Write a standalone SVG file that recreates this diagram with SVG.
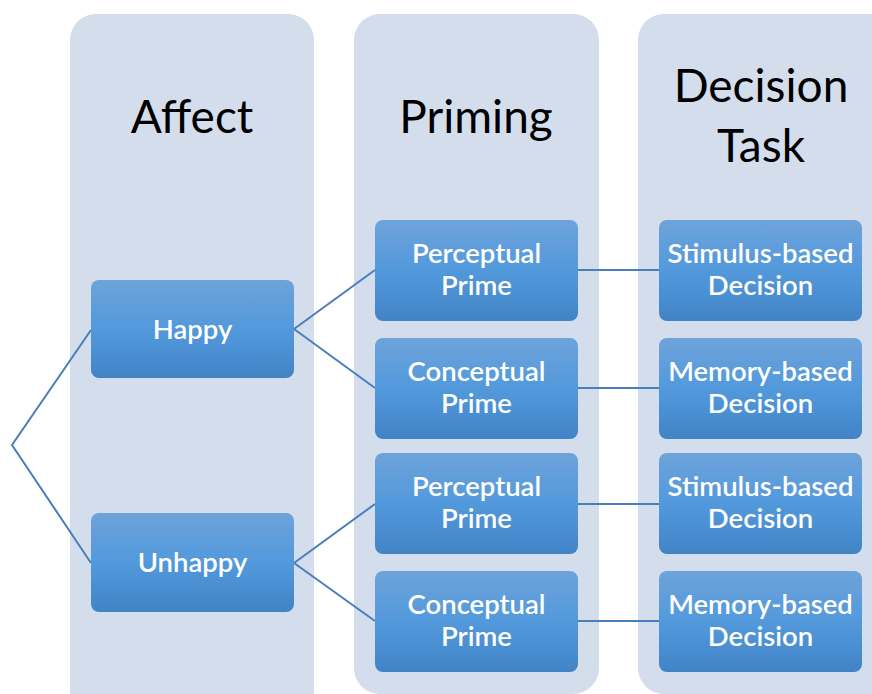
<svg xmlns="http://www.w3.org/2000/svg" width="872" height="694" viewBox="0 0 872 694">
<defs>
<linearGradient id="g" x1="0" y1="0" x2="0" y2="1">
<stop offset="0" stop-color="#6ea3da"/>
<stop offset="0.5" stop-color="#5299dc"/>
<stop offset="1" stop-color="#4184c6"/>
</linearGradient>
</defs>
<style>
.col{fill:#d3ddec}
.title{font-family:Lato,"Open Sans",sans-serif;font-size:46px;fill:#000;text-anchor:middle}
.node rect{fill:url(#g)}
.node text{font-family:Lato,"Open Sans",sans-serif;font-size:27.5px;font-weight:600;fill:#fff;text-anchor:middle}
.conn line,.conn polyline{stroke:#4a7ebb;stroke-width:2;fill:none}
</style>
<rect width="872" height="694" fill="#fff"/>
<g id="col-affect"><rect class="col" x="70" y="14" width="244" height="705" rx="26"/><text class="title" x="192" y="133">Affect</text></g>
<g id="col-priming"><rect class="col" x="354" y="14" width="245" height="680" rx="26"/><text class="title" x="476" y="133">Priming</text></g>
<g id="col-decision"><rect class="col" x="638" y="14" width="260" height="680" rx="26"/><text class="title" x="761" y="102">Decision</text><text class="title" x="761" y="162">Task</text></g>
<g class="conn" id="connectors">
<polyline points="91,330 12,445 91,563"/>
<line x1="294" y1="329" x2="375" y2="270"/>
<line x1="294" y1="329" x2="375" y2="388"/>
<line x1="294" y1="563" x2="375" y2="504"/>
<line x1="294" y1="563" x2="375" y2="621"/>
<line x1="578" y1="270" x2="659" y2="270"/>
<line x1="578" y1="388" x2="659" y2="388"/>
<line x1="578" y1="504" x2="659" y2="504"/>
<line x1="578" y1="621" x2="659" y2="621"/>
</g>
<g class="node" id="happy"><rect x="91" y="280" width="203" height="98" rx="8"/><text x="192.5" y="339">Happy</text></g>
<g class="node" id="unhappy"><rect x="91" y="513" width="203" height="99" rx="8"/><text x="192.5" y="572">Unhappy</text></g>
<g class="node" id="perc1"><rect x="375" y="220" width="203" height="101" rx="8"/><text x="476.5" y="263">Perceptual</text><text x="476.5" y="295">Prime</text></g>
<g class="node" id="conc1"><rect x="375" y="338" width="203" height="101" rx="8"/><text x="476.5" y="381">Conceptual</text><text x="476.5" y="413">Prime</text></g>
<g class="node" id="perc2"><rect x="375" y="453" width="203" height="101" rx="8"/><text x="476.5" y="496">Perceptual</text><text x="476.5" y="528">Prime</text></g>
<g class="node" id="conc2"><rect x="375" y="571" width="203" height="101" rx="8"/><text x="476.5" y="614">Conceptual</text><text x="476.5" y="646">Prime</text></g>
<g class="node" id="stim1"><rect x="659" y="220" width="203" height="101" rx="8"/><text x="760.5" y="263">Stimulus-based</text><text x="760.5" y="295">Decision</text></g>
<g class="node" id="mem1"><rect x="659" y="338" width="203" height="101" rx="8"/><text x="760.5" y="381">Memory-based</text><text x="760.5" y="413">Decision</text></g>
<g class="node" id="stim2"><rect x="659" y="453" width="203" height="101" rx="8"/><text x="760.5" y="496">Stimulus-based</text><text x="760.5" y="528">Decision</text></g>
<g class="node" id="mem2"><rect x="659" y="571" width="203" height="101" rx="8"/><text x="760.5" y="614">Memory-based</text><text x="760.5" y="646">Decision</text></g>
</svg>
